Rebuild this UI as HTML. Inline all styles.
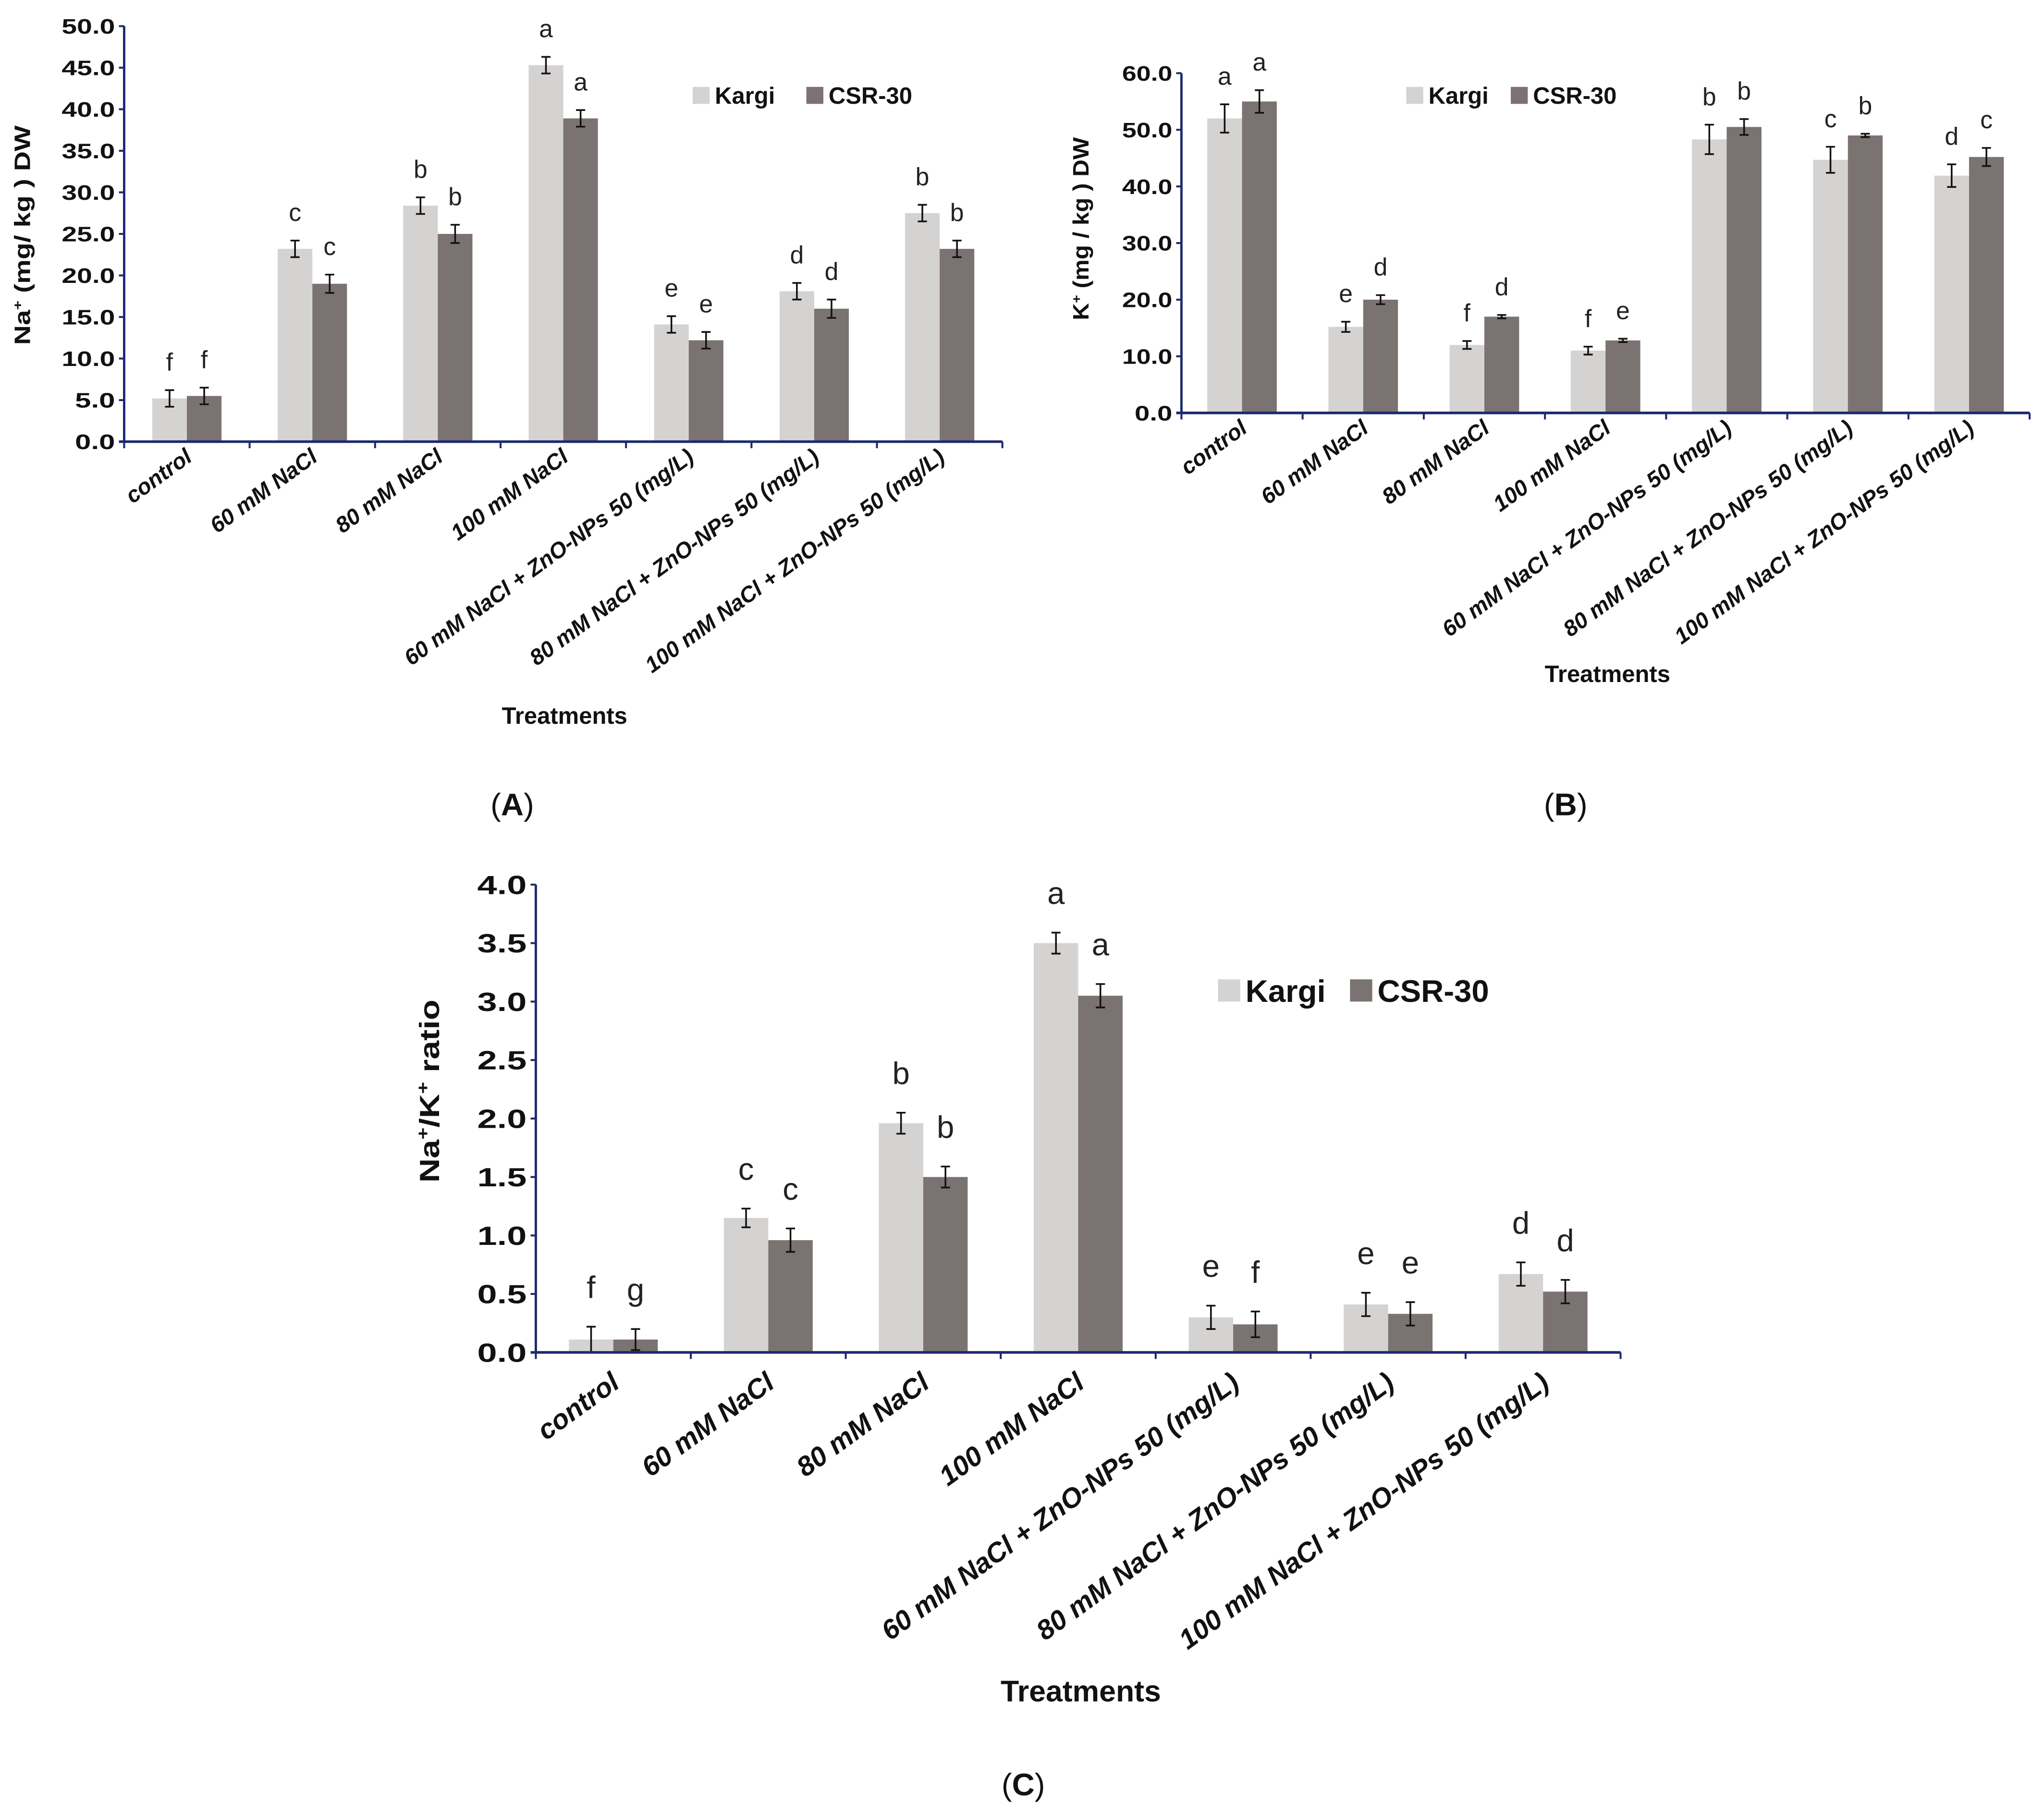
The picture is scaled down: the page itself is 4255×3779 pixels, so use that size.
<!DOCTYPE html>
<html><head><meta charset="utf-8"><style>
html,body{margin:0;padding:0;background:#fff}
svg{display:block}
text{font-family:"Liberation Sans",sans-serif}
</style></head><body>
<svg id="fig" xmlns="http://www.w3.org/2000/svg" width="4255" height="3779" viewBox="0 0 1564 1389" preserveAspectRatio="none"></svg>
<script>
const categories = ["control","60 mM NaCl","80 mM NaCl","100 mM NaCl","60 mM NaCl + ZnO-NPs 50 (mg/L)","80 mM NaCl + ZnO-NPs 50 (mg/L)","100 mM NaCl + ZnO-NPs 50 (mg/L)"];
const seriesNames = ["Kargi","CSR-30"];
const naKargi = [5.2,23.2,28.4,45.3,14.1,18.1,27.5];
const naCsr = [5.5,19.0,25.0,38.9,12.2,16.0,23.2];
const naKargiErr = [1.0,1.0,1.0,1.0,1.0,1.0,1.0];
const naCsrErr = [1.0,1.1,1.1,1.0,1.0,1.1,1.0];
const naKargiLetters = ["f","c","b","a","e","d","b"];
const naCsrLetters = ["f","c","b","a","e","d","b"];
const naTicks = ["0.0","5.0","10.0","15.0","20.0","25.0","30.0","35.0","40.0","45.0","50.0"];
const kKargi = [52.0,15.2,12.0,11.0,48.3,44.7,41.9];
const kCsr = [55.0,20.0,17.0,12.8,50.5,49.0,45.2];
const kKargiErr = [2.5,0.9,0.7,0.7,2.6,2.3,2.0];
const kCsrErr = [2.0,0.8,0.3,0.3,1.4,0.3,1.6];
const kKargiLetters = ["a","e","f","f","b","c","d"];
const kCsrLetters = ["a","d","d","e","b","b","c"];
const kTicks = ["0.0","10.0","20.0","30.0","40.0","50.0","60.0"];
const rKargi = [0.11,1.15,1.96,3.50,0.30,0.41,0.67];
const rCsr = [0.11,0.96,1.50,3.05,0.24,0.33,0.52];
const rKargiErr = [0.11,0.08,0.09,0.09,0.10,0.10,0.10];
const rCsrErr = [0.09,0.10,0.09,0.10,0.11,0.10,0.10];
const rKargiLetters = ["f","c","b","a","e","e","d"];
const rCsrLetters = ["g","c","b","a","f","e","d"];
const rTicks = ["0.0","0.5","1.0","1.5","2.0","2.5","3.0","3.5","4.0"];

const NS="http://www.w3.org/2000/svg";
const svg=document.getElementById('fig');
const AX="#1c2a6e", C1="#d5d2d2", C2="#7a7371";
function el(tag,attrs,parent){const e=document.createElementNS(NS,tag);for(const k in attrs)e.setAttribute(k,attrs[k]);(parent||svg).appendChild(e);return e;}

function chart(o){
  const g=el('g',{});
  
  
  const n=categories.length, step=(o.x1-o.x0)/n;
  const yMax=parseFloat(o.ticks[o.ticks.length-1]);
  const ys=v=>o.y0-(v/yMax)*(o.y0-o.yTop);
  const xc=i=>o.x0+step*(i+0.5);
  [o.k,o.c].forEach((vals,s)=>{
    const errs=s?o.ce:o.ke, lets=s?o.cl:o.kl;
    vals.forEach((v,i)=>{
      const x=xc(i)-o.bw+s*o.bw;
      const b=el('rect',{x:x,y:ys(v),width:o.bw,height:o.y0-ys(v),fill:s?C2:C1},g);
      
      
      const cx=x+o.bw/2, e=errs[i];
      const eb=el('path',{d:`M${cx},${ys(v+e)}V${ys(v-e)}M${cx-3.5},${ys(v+e)}H${cx+3.5}M${cx-3.5},${ys(v-e)}H${cx+3.5}`,stroke:'#111','stroke-width':1.3,fill:'none'},g);
      
      
      const t=el('text',{x:cx,y:ys(v+e)-o.lg,'text-anchor':'middle','font-size':o.lf,fill:'#222'},g);
      t.textContent=lets[i];
      
      
    });
  });
  const ya=el('line',{x1:o.x0,y1:o.yTop,x2:o.x0,y2:o.y0,stroke:AX,'stroke-width':1.8},g);
  
  
  const xa=el('line',{x1:o.x0-4,y1:o.y0,x2:o.x1,y2:o.y0,stroke:AX,'stroke-width':2},g);
  
  
  o.ticks.forEach(tk=>{
    const y=ys(parseFloat(tk));
    el('line',{x1:o.x0-4,y1:y,x2:o.x0,y2:y,stroke:AX,'stroke-width':1.5},g);
    const t=el('text',{x:o.x0-7,y:y+o.tf*0.36,'text-anchor':'end','font-size':o.tf,'font-weight':'bold',fill:'#111',textLength:o.tcw*tk.length,lengthAdjust:'spacingAndGlyphs'},g);
    t.textContent=tk;
    
    
  });
  for(let i=0;i<=n;i++){const x=o.x0+step*i;el('line',{x1:x,y1:o.y0,x2:x,y2:o.y0+5,stroke:AX,'stroke-width':1.5},g);}
  categories.forEach((c,i)=>{
    const x=xc(i)+o.xlx, y=o.y0+o.xly;
    const t=el('text',{x:x,y:y,'text-anchor':'end','font-size':o.xf,'font-weight':'bold','font-style':'italic',fill:'#111',transform:`rotate(-36 ${x} ${y})`},g);
    t.textContent=c;
    
    
  });
  const yt=el('text',{x:o.ytx,y:o.yty,'text-anchor':'middle','font-size':o.ytf,'font-weight':'bold',fill:'#111',textLength:o.ytl,lengthAdjust:'spacingAndGlyphs',transform:`rotate(-90 ${o.ytx} ${o.yty})`},g);
  yt.innerHTML=o.ytitle;
  
  
  const xt=el('text',{x:o.xtx,y:o.xty,'text-anchor':'middle','font-size':o.xtf,'font-weight':'bold',fill:'#111'},g);
  xt.textContent='Treatments';
  
  
  [0,1].forEach(s=>{
    const lx=o.lx[s];
    const sq=el('rect',{x:lx,y:o.ly-o.ls/2,width:o.ls,height:o.ls,fill:s?C2:C1},g);
    
    
    const t=el('text',{x:lx+o.ls+4,y:o.ly+o.lgf*0.36,'font-size':o.lgf,'font-weight':'bold',fill:'#111'},g);
    t.textContent=seriesNames[s];
    
    
  });
  const pl=el('text',{x:o.px,y:o.py,'text-anchor':'middle','font-size':24,'font-family':'Liberation Serif',fill:'#111'},g);
  pl.innerHTML='(<tspan font-weight="bold">'+o.panel+'</tspan>)';
  
  
}

chart({name:'chart-a-sodium',x0:95,x1:767,y0:338,yTop:20,bw:26.5,ticks:naTicks,k:naKargi,c:naCsr,ke:naKargiErr,ce:naCsrErr,kl:naKargiLetters,cl:naCsrLetters,
  lg:15,lf:19,tf:16,tcw:10.2,xf:17,xlx:5,xly:14,xtf:18,xtx:432,xty:554,ytx:23,yty:180,ytf:17,ytl:168,ytitle:'Na<tspan dy="-6" font-size="10">+</tspan><tspan dy="6"> (mg/ kg ) DW</tspan>',
  lx:[530,617],ly:73,ls:13,lgf:18,px:392,py:624,panel:'A'});
chart({name:'chart-b-potassium',x0:904,x1:1553,y0:316,yTop:56,bw:26.6,ticks:kTicks,k:kKargi,c:kCsr,ke:kKargiErr,ce:kCsrErr,kl:kKargiLetters,cl:kCsrLetters,
  lg:15,lf:19,tf:16,tcw:9.6,xf:17,xlx:5,xly:14,xtf:18,xtx:1230,xty:522,ytx:833,yty:175,ytf:17,ytl:140,ytitle:'K<tspan dy="-6" font-size="10">+</tspan><tspan dy="6"> (mg / kg ) DW</tspan>',
  lx:[1076,1156],ly:73,ls:13,lgf:18,px:1198,py:624,panel:'B'});
chart({name:'chart-c-ratio',x0:410,x1:1240,y0:1035,yTop:677,bw:34,ticks:rTicks,k:rKargi,c:rCsr,ke:rKargiErr,ce:rCsrErr,kl:rKargiLetters,cl:rCsrLetters,
  lg:22,lf:24,tf:20,tcw:12.6,xf:21,xlx:6,xly:26,xtf:23,xtx:827,xty:1302,ytx:336,yty:835,ytf:21,ytl:140,ytitle:'Na<tspan dy="-8" font-size="13">+</tspan><tspan dy="8">/K</tspan><tspan dy="-8" font-size="13">+</tspan><tspan dy="8"> ratio</tspan>',
  lx:[932,1033],ly:758,ls:17,lgf:24,px:783,py:1374,panel:'C'});
</script>
</body></html>
